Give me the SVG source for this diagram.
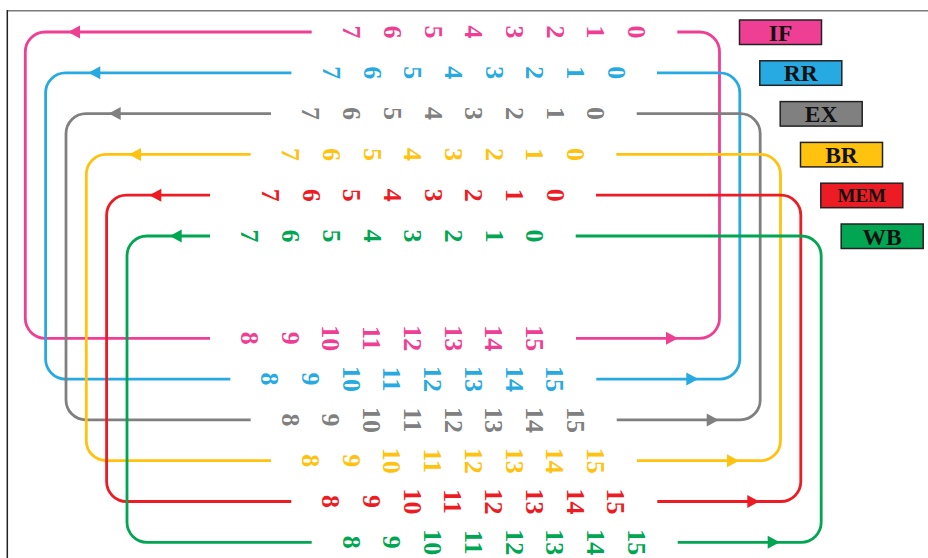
<svg xmlns="http://www.w3.org/2000/svg" xmlns:xlink="http://www.w3.org/1999/xlink" width="928" height="558" viewBox="0 0 928 558">
<style>
.ln{fill:none;stroke-width:2.8;stroke-linecap:butt}
.d{font-family:"Liberation Serif","Times New Roman",serif;font-weight:bold;font-size:26px;text-anchor:middle}
.lg{font-family:"Liberation Serif","Times New Roman",serif;font-weight:bold;font-size:23.5px;text-anchor:middle;fill:#111}
.box{stroke:#222;stroke-width:1.5}
.c0{stroke:#EE3F94}.f0{fill:#EE3F94}
.c1{stroke:#27AAE1}.f1{fill:#27AAE1}
.c2{stroke:#808080}.f2{fill:#808080}
.c3{stroke:#FFC20E}.f3{fill:#FFC20E}
.c4{stroke:#ED1C24}.f4{fill:#ED1C24}
.c5{stroke:#00A651}.f5{fill:#00A651}
</style>
<defs>
<path id="aL" d="M0,0 L12,-6.5 L12,6.5 Z"/>
<path id="aR" d="M0,0 L-12,-6.5 L-12,6.5 Z"/>
</defs>
<rect width="928" height="558" fill="#fff"/>
<g id="frame">
<line x1="7" y1="10.7" x2="928" y2="10.7" stroke="#7a7a7a" stroke-width="1.5"/>
<line x1="7.3" y1="10" x2="7.3" y2="558" stroke="#222" stroke-width="1.5"/>
</g>
<g id="connectors">
<path class="ln c0" d="M311.7,32 H45.3 A20,20 0 0 0 25.3,52 V318.3 A20,20 0 0 0 45.3,338.3 H210"/>
<path class="ln c0" d="M576,338.3 H699.5 A20,20 0 0 0 719.5,318.3 V52 A20,20 0 0 0 699.5,32 H677.3"/>
<use xlink:href="#aL" href="#aL" class="f0" x="68" y="32"/>
<use xlink:href="#aR" href="#aR" class="f0" x="678" y="338.3"/>
<path class="ln c1" d="M291.4,72.8 H65.6 A20,20 0 0 0 45.6,92.8 V359.1 A20,20 0 0 0 65.6,379.1 H230.3"/>
<path class="ln c1" d="M596.3,379.1 H719.8 A20,20 0 0 0 739.8,359.1 V92.8 A20,20 0 0 0 719.8,72.8 H657"/>
<use xlink:href="#aL" href="#aL" class="f1" x="88.3" y="72.8"/>
<use xlink:href="#aR" href="#aR" class="f1" x="698.3" y="379.1"/>
<path class="ln c2" d="M271,113.6 H86 A20,20 0 0 0 66,133.6 V399.9 A20,20 0 0 0 86,419.9 H250.7"/>
<path class="ln c2" d="M616.7,419.9 H740.2 A20,20 0 0 0 760.2,399.9 V133.6 A20,20 0 0 0 740.2,113.6 H636.7"/>
<use xlink:href="#aL" href="#aL" class="f2" x="108.7" y="113.6"/>
<use xlink:href="#aR" href="#aR" class="f2" x="718.7" y="419.9"/>
<path class="ln c3" d="M250.7,154.4 H106.3 A20,20 0 0 0 86.3,174.4 V440.7 A20,20 0 0 0 106.3,460.7 H271"/>
<path class="ln c3" d="M637,460.7 H760.5 A20,20 0 0 0 780.5,440.7 V174.4 A20,20 0 0 0 760.5,154.4 H616.3"/>
<use xlink:href="#aL" href="#aL" class="f3" x="129" y="154.4"/>
<use xlink:href="#aR" href="#aR" class="f3" x="739" y="460.7"/>
<path class="ln c4" d="M210,195.2 H126.6 A20,20 0 0 0 106.6,215.2 V481.5 A20,20 0 0 0 126.6,501.5 H291.3"/>
<path class="ln c4" d="M657.3,501.5 H780.8 A20,20 0 0 0 800.8,481.5 V215.2 A20,20 0 0 0 780.8,195.2 H596"/>
<use xlink:href="#aL" href="#aL" class="f4" x="149.3" y="195.2"/>
<use xlink:href="#aR" href="#aR" class="f4" x="759.3" y="501.5"/>
<path class="ln c5" d="M210,236 H147 A20,20 0 0 0 127,256 V522.3 A20,20 0 0 0 147,542.3 H311.7"/>
<path class="ln c5" d="M677.7,542.3 H801.2 A20,20 0 0 0 821.2,522.3 V256 A20,20 0 0 0 801.2,236 H575.7"/>
<use xlink:href="#aL" href="#aL" class="f5" x="169.7" y="236"/>
<use xlink:href="#aR" href="#aR" class="f5" x="779.7" y="542.3"/>
</g>
<g id="digits-IF" class="d f0">
<text transform="translate(637,32) rotate(90)" y="9">0</text>
<text transform="translate(596.3,32) rotate(90)" y="9">1</text>
<text transform="translate(555.6,32) rotate(90)" y="9">2</text>
<text transform="translate(514.9,32) rotate(90)" y="9">3</text>
<text transform="translate(474.2,32) rotate(90)" y="9">4</text>
<text transform="translate(433.5,32) rotate(90)" y="9">5</text>
<text transform="translate(392.8,32) rotate(90)" y="9">6</text>
<text transform="translate(352.1,32) rotate(90)" y="9">7</text>
<text transform="translate(250,338.3) rotate(90)" y="9">8</text>
<text transform="translate(290.7,338.3) rotate(90)" y="9">9</text>
<text transform="translate(331.4,338.3) rotate(90)" y="9">10</text>
<text transform="translate(372.1,338.3) rotate(90)" y="9">11</text>
<text transform="translate(412.8,338.3) rotate(90)" y="9">12</text>
<text transform="translate(453.5,338.3) rotate(90)" y="9">13</text>
<text transform="translate(494.2,338.3) rotate(90)" y="9">14</text>
<text transform="translate(534.9,338.3) rotate(90)" y="9">15</text>
</g>
<g id="digits-RR" class="d f1">
<text transform="translate(616.7,72.8) rotate(90)" y="9">0</text>
<text transform="translate(576,72.8) rotate(90)" y="9">1</text>
<text transform="translate(535.3,72.8) rotate(90)" y="9">2</text>
<text transform="translate(494.6,72.8) rotate(90)" y="9">3</text>
<text transform="translate(453.9,72.8) rotate(90)" y="9">4</text>
<text transform="translate(413.2,72.8) rotate(90)" y="9">5</text>
<text transform="translate(372.5,72.8) rotate(90)" y="9">6</text>
<text transform="translate(331.8,72.8) rotate(90)" y="9">7</text>
<text transform="translate(270.3,379.1) rotate(90)" y="9">8</text>
<text transform="translate(311,379.1) rotate(90)" y="9">9</text>
<text transform="translate(351.7,379.1) rotate(90)" y="9">10</text>
<text transform="translate(392.4,379.1) rotate(90)" y="9">11</text>
<text transform="translate(433.1,379.1) rotate(90)" y="9">12</text>
<text transform="translate(473.8,379.1) rotate(90)" y="9">13</text>
<text transform="translate(514.5,379.1) rotate(90)" y="9">14</text>
<text transform="translate(555.2,379.1) rotate(90)" y="9">15</text>
</g>
<g id="digits-EX" class="d f2">
<text transform="translate(596.3,113.6) rotate(90)" y="9">0</text>
<text transform="translate(555.6,113.6) rotate(90)" y="9">1</text>
<text transform="translate(514.9,113.6) rotate(90)" y="9">2</text>
<text transform="translate(474.2,113.6) rotate(90)" y="9">3</text>
<text transform="translate(433.5,113.6) rotate(90)" y="9">4</text>
<text transform="translate(392.8,113.6) rotate(90)" y="9">5</text>
<text transform="translate(352.1,113.6) rotate(90)" y="9">6</text>
<text transform="translate(311.4,113.6) rotate(90)" y="9">7</text>
<text transform="translate(290.7,419.9) rotate(90)" y="9">8</text>
<text transform="translate(331.4,419.9) rotate(90)" y="9">9</text>
<text transform="translate(372.1,419.9) rotate(90)" y="9">10</text>
<text transform="translate(412.8,419.9) rotate(90)" y="9">11</text>
<text transform="translate(453.5,419.9) rotate(90)" y="9">12</text>
<text transform="translate(494.2,419.9) rotate(90)" y="9">13</text>
<text transform="translate(534.9,419.9) rotate(90)" y="9">14</text>
<text transform="translate(575.6,419.9) rotate(90)" y="9">15</text>
</g>
<g id="digits-BR" class="d f3">
<text transform="translate(576,154.4) rotate(90)" y="9">0</text>
<text transform="translate(535.3,154.4) rotate(90)" y="9">1</text>
<text transform="translate(494.6,154.4) rotate(90)" y="9">2</text>
<text transform="translate(453.9,154.4) rotate(90)" y="9">3</text>
<text transform="translate(413.2,154.4) rotate(90)" y="9">4</text>
<text transform="translate(372.5,154.4) rotate(90)" y="9">5</text>
<text transform="translate(331.8,154.4) rotate(90)" y="9">6</text>
<text transform="translate(291.1,154.4) rotate(90)" y="9">7</text>
<text transform="translate(311,460.7) rotate(90)" y="9">8</text>
<text transform="translate(351.7,460.7) rotate(90)" y="9">9</text>
<text transform="translate(392.4,460.7) rotate(90)" y="9">10</text>
<text transform="translate(433.1,460.7) rotate(90)" y="9">11</text>
<text transform="translate(473.8,460.7) rotate(90)" y="9">12</text>
<text transform="translate(514.5,460.7) rotate(90)" y="9">13</text>
<text transform="translate(555.2,460.7) rotate(90)" y="9">14</text>
<text transform="translate(595.9,460.7) rotate(90)" y="9">15</text>
</g>
<g id="digits-MEM" class="d f4">
<text transform="translate(555.7,195.2) rotate(90)" y="9">0</text>
<text transform="translate(515,195.2) rotate(90)" y="9">1</text>
<text transform="translate(474.3,195.2) rotate(90)" y="9">2</text>
<text transform="translate(433.6,195.2) rotate(90)" y="9">3</text>
<text transform="translate(392.9,195.2) rotate(90)" y="9">4</text>
<text transform="translate(352.2,195.2) rotate(90)" y="9">5</text>
<text transform="translate(311.5,195.2) rotate(90)" y="9">6</text>
<text transform="translate(270.8,195.2) rotate(90)" y="9">7</text>
<text transform="translate(331.3,501.5) rotate(90)" y="9">8</text>
<text transform="translate(372,501.5) rotate(90)" y="9">9</text>
<text transform="translate(412.7,501.5) rotate(90)" y="9">10</text>
<text transform="translate(453.4,501.5) rotate(90)" y="9">11</text>
<text transform="translate(494.1,501.5) rotate(90)" y="9">12</text>
<text transform="translate(534.8,501.5) rotate(90)" y="9">13</text>
<text transform="translate(575.5,501.5) rotate(90)" y="9">14</text>
<text transform="translate(616.2,501.5) rotate(90)" y="9">15</text>
</g>
<g id="digits-WB" class="d f5">
<text transform="translate(535.3,236) rotate(90)" y="9">0</text>
<text transform="translate(494.6,236) rotate(90)" y="9">1</text>
<text transform="translate(453.9,236) rotate(90)" y="9">2</text>
<text transform="translate(413.2,236) rotate(90)" y="9">3</text>
<text transform="translate(372.5,236) rotate(90)" y="9">4</text>
<text transform="translate(331.8,236) rotate(90)" y="9">5</text>
<text transform="translate(291.1,236) rotate(90)" y="9">6</text>
<text transform="translate(250.4,236) rotate(90)" y="9">7</text>
<text transform="translate(351.7,542.3) rotate(90)" y="9">8</text>
<text transform="translate(392.4,542.3) rotate(90)" y="9">9</text>
<text transform="translate(433.1,542.3) rotate(90)" y="9">10</text>
<text transform="translate(473.8,542.3) rotate(90)" y="9">11</text>
<text transform="translate(514.5,542.3) rotate(90)" y="9">12</text>
<text transform="translate(555.2,542.3) rotate(90)" y="9">13</text>
<text transform="translate(595.9,542.3) rotate(90)" y="9">14</text>
<text transform="translate(636.6,542.3) rotate(90)" y="9">15</text>
</g>
<g id="legend-IF"><rect class="box f0" x="739.5" y="20" width="82" height="24.5"/><text class="lg" x="780.5" y="40.5">IF</text></g>
<g id="legend-RR"><rect class="box f1" x="759.8" y="60.8" width="82" height="24.5"/><text class="lg" x="800.8" y="81.3">RR</text></g>
<g id="legend-EX"><rect class="box f2" x="780.2" y="101.6" width="82" height="24.5"/><text class="lg" x="821.2" y="122.1">EX</text></g>
<g id="legend-BR"><rect class="box f3" x="800.5" y="142.4" width="82" height="24.5"/><text class="lg" x="841.5" y="162.9">BR</text></g>
<g id="legend-MEM"><rect class="box f4" x="820.8" y="183.2" width="82" height="24.5"/><text class="lg" x="861.8" y="202" style="font-size:19px">MEM</text></g>
<g id="legend-WB"><rect class="box f5" x="841.2" y="224" width="82" height="24.5"/><text class="lg" x="882.2" y="244.5">WB</text></g>
</svg>
